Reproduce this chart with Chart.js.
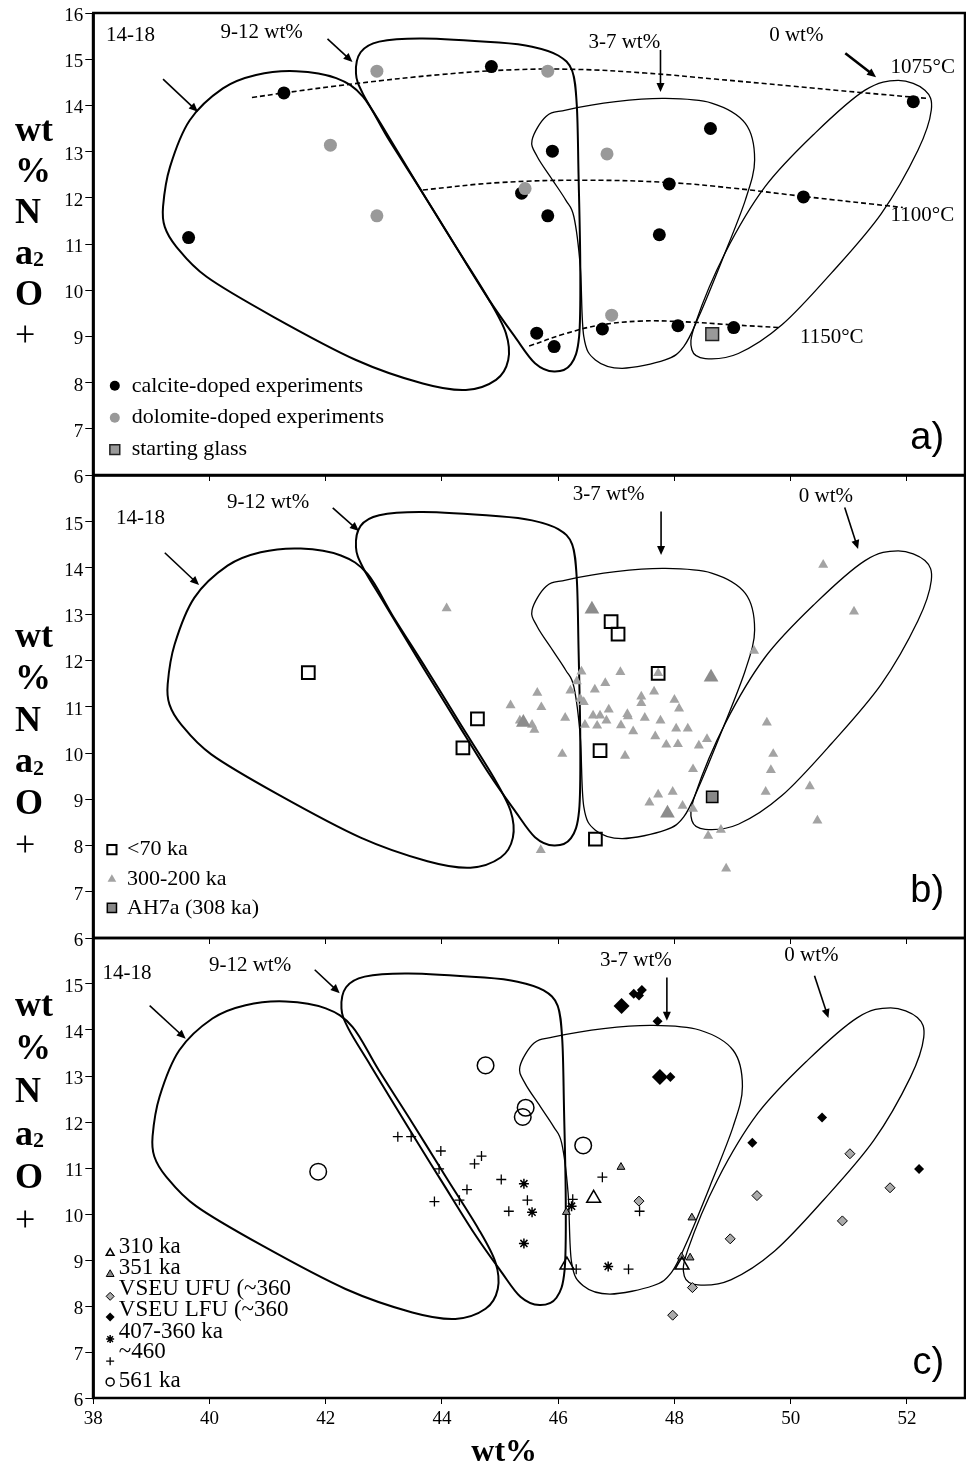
<!DOCTYPE html>
<html>
<head>
<meta charset="utf-8">
<script src="https://cdn.jsdelivr.net/npm/chart.js@4.4.1/dist/chart.umd.min.js"></script>
<style>
html, body { margin:0; padding:0; background:#fff; }
#wrap { position:relative; width:966px; height:1473px; overflow:hidden; }
canvas { position:absolute; left:0; }
</style>
</head>
<body>
<div id="wrap">
  <canvas id="panelA" width="966" height="490" style="top:0px"></canvas>
  <canvas id="panelB" width="966" height="483" style="top:470px"></canvas>
  <canvas id="panelC" width="966" height="540" style="top:933px"></canvas>
</div>
<script>
// ---------- axes ----------
var xTicks = [38, 40, 42, 44, 46, 48, 50, 52];
var yTicksA = [6, 7, 8, 9, 10, 11, 12, 13, 14, 15, 16];
var yTicksBC = [6, 7, 8, 9, 10, 11, 12, 13, 14, 15];

// ---------- panel a: experiments ----------
var calcite = [[41.28,14.27],[44.85,14.84],[39.64,11.14],[45.37,12.10],[52.11,14.08],[48.62,13.50],
  [45.90,13.01],[47.91,12.30],[50.22,12.02],[45.82,11.61],[47.74,11.20],[45.63,9.07],[45.93,8.78],
  [46.76,9.16],[48.06,9.23],[49.02,9.19]];
var dolomite = [[42.88,14.74],[42.08,13.14],[42.88,11.61],[45.43,12.20],[45.82,14.74],[46.84,12.95],[46.92,9.46]];
var startGlass = [[48.65,9.05]];
var iso1075 = [[40.73,14.17],[41.28,14.27],[42.5,14.47],[44.0,14.67],[45.2,14.77],[46.3,14.78],
  [47.5,14.70],[48.7,14.57],[50.0,14.42],[51.2,14.28],[52.36,14.15]];
var iso1100 = [[43.67,12.17],[45.0,12.33],[46.5,12.38],[47.9,12.33],[49.0,12.21],[50.22,12.03],[51.93,11.79]];
var iso1150 = [[45.5,8.79],[46.1,9.05],[46.7,9.24],[47.4,9.33],[48.1,9.32],[49.0,9.25],[49.82,9.19]];

// ---------- panel b: natural samples ----------
var young70 = [[41.70,11.74],[44.61,10.74],[44.36,10.11],[46.91,12.84],[47.03,12.57],[47.72,11.72],[46.72,10.05],[46.64,8.14]];
var ah7a = [[48.65,9.05]];
var tri300 = [[44.08,13.13],[45.18,11.03],[50.56,14.07],[51.09,13.06],[49.37,12.21],[46.40,11.76],[47.07,11.75],
  [47.72,11.73],[46.32,11.55],[46.81,11.51],[46.21,11.35],[46.63,11.37],[47.65,11.33],[45.64,11.30],[46.38,11.17],
  [46.44,11.10],[47.43,11.22],[47.43,11.08],[48.00,11.15],[45.71,10.99],[48.08,10.96],[46.87,10.94],[46.60,10.81],
  [46.72,10.81],[47.19,10.84],[47.20,10.79],[46.12,10.76],[46.83,10.70],[47.49,10.76],[47.76,10.70],[45.55,10.61],
  [46.46,10.61],[46.67,10.59],[47.08,10.60],[45.59,10.50],[47.29,10.47],[48.03,10.53],[48.23,10.53],[49.59,10.66],
  [47.67,10.36],[47.86,10.18],[48.06,10.19],[48.42,10.16],[48.56,10.30],[46.07,9.98],[47.15,9.94],[49.70,9.98],
  [49.66,9.63],[48.32,9.65],[50.33,9.28],[49.57,9.16],[47.72,9.10],[47.97,9.16],[47.57,8.93],[48.14,8.86],
  [48.32,8.79],[50.46,8.54],[48.80,8.34],[48.58,8.21],[45.70,7.90],[48.89,7.50],[45.34,10.70]];
var tri300Big = [[46.58,13.11],[48.63,11.64],[47.88,8.70],[45.40,10.66]];

// ---------- panel c: older samples ----------
var ka310 = [[46.61,10.34],[46.15,8.89],[48.13,8.89]];
var ka351 = [[47.08,11.02],[46.14,10.04],[48.30,9.92],[48.12,9.07],[48.27,9.05]];
var vseuUfu = [[47.39,10.28],[49.42,10.40],[48.96,9.46],[48.31,8.40],[47.97,7.80],[51.02,11.31],[51.71,10.57],[50.89,9.85]];
var vseuLfu = [[47.30,14.79],[47.39,14.75],[47.44,14.87],[47.71,14.19],[47.93,12.98],[49.34,11.55],[50.54,12.10],[52.21,10.98]];
var vseuLfuBig = [[47.09,14.52],[47.75,12.98]];
var ka407 = [[45.41,10.66],[45.55,10.04],[45.41,9.36],[46.23,10.17],[46.86,8.86]];
var ka460 = [[43.24,11.68],[43.47,11.68],[43.98,11.37],[43.95,10.98],[44.68,11.26],[44.56,11.09],[45.02,10.75],
  [44.43,10.53],[43.87,10.27],[44.30,10.30],[45.15,10.06],[45.47,10.30],[46.25,10.32],[46.31,8.80],[46.76,10.80],
  [47.40,10.06],[47.21,8.80]];
var ka561 = [[41.87,10.92],[44.75,13.23],[45.44,12.31],[45.39,12.11],[46.43,11.49]];

// ---------- CO2 envelopes (outline points, wt%) ----------
var env1418 = [[39.20,11.81],[39.32,12.67],[39.66,13.68],[40.23,14.37],[40.80,14.66],[41.49,14.74],[42.18,14.59],
  [42.64,14.19],[43.09,13.25],[43.67,12.10],[44.24,10.94],[44.81,9.79],[45.10,9.07],[45.14,8.49],[44.93,8.06],
  [44.41,7.84],[43.67,7.98],[42.52,8.49],[41.09,9.43],[39.95,10.29],[39.43,10.94],[39.23,11.37]];
var env912 = [[43.67,12.10],[44.24,10.94],[44.81,9.79],[45.25,9.00],[45.60,8.42],[45.93,8.24],[46.22,8.40],
  [46.36,9.00],[46.38,10.50],[46.35,12.50],[46.32,14.00],[46.24,14.75],[46.00,15.08],[45.55,15.27],[44.98,15.36],
  [43.67,15.45],[42.92,15.38],[42.60,15.15],[42.52,14.69],[42.64,14.25],[43.02,13.45]];
var env37 = [[45.55,13.25],[45.79,13.76],[46.13,13.90],[46.99,14.08],[47.84,14.15],[48.64,14.05],[49.22,13.61],
  [49.38,12.82],[49.22,11.95],[48.82,10.65],[48.42,9.43],[48.16,8.78],[47.84,8.49],[47.10,8.31],[46.64,8.49],
  [46.44,9.00],[46.38,10.51],[46.27,11.59],[46.13,11.95],[45.90,12.39],[45.64,12.89]];
var env0 = [[51.85,14.54],[52.31,14.33],[52.42,13.90],[52.19,13.03],[51.56,11.66],[50.70,10.37],[49.85,9.25],
  [49.10,8.63],[48.53,8.52],[48.30,8.71],[48.36,9.28],[48.87,10.80],[49.56,12.24],[50.42,13.40],[51.28,14.33]];

var envelopes = [env1418, env912, env37, env0];
var envWidths = [2, 2, 1.3, 1.3];

Chart.defaults.font.family = "'Liberation Serif', 'Times New Roman', serif";
Chart.defaults.color = '#000';

function toXY(arr) { return arr.map(function(p) { return {x: p[0], y: p[1]}; }); }

function closedCurve(ctx, pts) {
  var n = pts.length;
  ctx.beginPath();
  ctx.moveTo(pts[0][0], pts[0][1]);
  for (var i = 0; i < n; i++) {
    var p0 = pts[(i - 1 + n) % n], p1 = pts[i], p2 = pts[(i + 1) % n], p3 = pts[(i + 2) % n];
    var t = 1 / 6;
    ctx.bezierCurveTo(p1[0] + (p2[0] - p0[0]) * t, p1[1] + (p2[1] - p0[1]) * t,
                      p2[0] - (p3[0] - p1[0]) * t, p2[1] - (p3[1] - p1[1]) * t, p2[0], p2[1]);
  }
  ctx.closePath();
  ctx.stroke();
}

function arrow(ctx, x1, y1, x2, y2, w) {
  var a = Math.atan2(y2 - y1, x2 - x1), h = 9, hw = 4;
  ctx.lineWidth = w;
  ctx.beginPath();
  ctx.moveTo(x1, y1);
  ctx.lineTo(x2 - Math.cos(a) * h * 0.7, y2 - Math.sin(a) * h * 0.7);
  ctx.stroke();
  ctx.beginPath();
  ctx.moveTo(x2, y2);
  ctx.lineTo(x2 - h * Math.cos(a) + hw * Math.sin(a), y2 - h * Math.sin(a) - hw * Math.cos(a));
  ctx.lineTo(x2 - h * Math.cos(a) - hw * Math.sin(a), y2 - h * Math.sin(a) + hw * Math.cos(a));
  ctx.closePath();
  ctx.fill();
}

function marker(ctx, ds, r, x, y) {
  ctx.save();
  ctx.fillStyle = ds.pointBackgroundColor;
  ctx.strokeStyle = ds.pointBorderColor;
  ctx.lineWidth = ds.pointBorderWidth;
  Chart.helpers.drawPoint(ctx, {pointStyle: ds.pointStyle, radius: r, borderWidth: ds.pointBorderWidth, rotation: 0}, x, y);
  ctx.restore();
}

// draws envelopes, annotations, frame, legend and stacked y title
var deco = {
  id: 'deco',
  beforeDatasetsDraw: function(chart, args, o) {
    var ctx = chart.ctx, xs = chart.scales.x, ys = chart.scales.y;
    ctx.save();
    ctx.strokeStyle = '#000';
    envelopes.forEach(function(env, i) {
      var sh = o.shift[i];
      var pts = env.map(function(p) {
        return [xs.getPixelForValue(p[0] + sh[0]), ys.getPixelForValue(p[1] + sh[1])];
      });
      ctx.lineWidth = envWidths[i];
      closedCurve(ctx, pts);
    });
    ctx.restore();
  },
  afterDraw: function(chart, args, o) {
    var ctx = chart.ctx, xs = chart.scales.x, ys = chart.scales.y, ca = chart.chartArea;
    var X = function(v) { return xs.getPixelForValue(v); };
    var Y = function(v) { return ys.getPixelForValue(v); };
    ctx.save();
    ctx.fillStyle = '#000';
    ctx.strokeStyle = '#000';
    // frame
    ctx.lineWidth = 2.5;
    ctx.strokeRect(ca.left, ca.top, ca.right - ca.left, ca.bottom - ca.top);
    ctx.lineWidth = 3;
    ctx.beginPath(); ctx.moveTo(ca.left, ca.top); ctx.lineTo(ca.left, ca.bottom); ctx.stroke();
    // labels
    ctx.font = "21px 'Liberation Serif'";
    ctx.textBaseline = 'middle';
    ctx.textAlign = 'left';
    o.notes.forEach(function(n) { ctx.fillText(n.t, X(n.x), Y(n.y)); });
    o.arrows.forEach(function(a) { arrow(ctx, X(a[0]), Y(a[1]), X(a[2]), Y(a[3]), a[4]); });
    // panel letter
    ctx.font = "38px 'Liberation Sans'";
    ctx.textAlign = 'right';
    ctx.fillText(o.letter.t, X(o.letter.x), Y(o.letter.y));
    // legend
    ctx.textAlign = 'left';
    ctx.font = o.legendFont;
    o.legend.forEach(function(l) {
      marker(ctx, chart.data.datasets[l.ds], l.r, X(l.mx), Y(l.my));
      ctx.fillStyle = '#000';
      ctx.fillText(l.t, X(l.tx), Y(l.ty));
    });
    // stacked y title
    var y0 = Y(o.titleY), sp = o.titleStep, tx = 15;
    ctx.textAlign = 'left';
    ctx.font = "bold 36px 'Liberation Serif'";
    ctx.fillText('wt', tx, y0);
    ctx.fillText('%', tx, y0 + sp);
    ctx.fillText('N', tx, y0 + 2 * sp);
    ctx.fillText('a', tx, y0 + 3 * sp);
    var aw = ctx.measureText('a').width;
    ctx.font = "bold 22px 'Liberation Serif'";
    ctx.fillText('2', tx + aw, y0 + 3 * sp + 6);
    ctx.font = "bold 36px 'Liberation Serif'";
    ctx.fillText('O', tx, y0 + 4 * sp);
    ctx.font = "36px 'Liberation Serif'";
    ctx.fillText('+', tx, y0 + 5 * sp);
    // x title
    if (o.xTitle) {
      ctx.font = "bold 32px 'Liberation Serif'";
      ctx.textAlign = 'center';
      ctx.fillText(o.xTitle.t, X(o.xTitle.x), ca.bottom + o.xTitle.dy);
    }
    ctx.restore();
  }
};

function makeScales(yTicks, xHeight, xLabels) {
  return {
    x: {
      type: 'linear', min: 38, max: 53,
      afterBuildTicks: function(s) { s.ticks = xTicks.map(function(v) { return {value: v}; }); },
      afterFit: function(s) { s.height = xHeight; s.paddingLeft = 0; s.paddingRight = 0; },
      grid: { drawOnChartArea: false, drawTicks: true, tickLength: 6, color: '#000', lineWidth: 1 },
      border: { display: false },
      ticks: { display: xLabels, font: { size: 19 }, padding: 4, maxRotation: 0, autoSkip: false }
    },
    y: {
      type: 'linear', min: 6, max: 16,
      afterBuildTicks: function(s) { s.ticks = yTicks.map(function(v) { return {value: v}; }); },
      afterFit: function(s) { s.width = 93.3; s.paddingTop = 0; s.paddingBottom = 0; },
      grid: { drawOnChartArea: false, drawTicks: true, tickLength: 8, color: '#000', lineWidth: 1 },
      border: { display: false },
      ticks: { font: { size: 19 }, padding: 2, labelOffset: 3, autoSkip: false }
    }
  };
}

function pts(data, style, r, bg, bc, bw) {
  return { data: toXY(data), pointStyle: style, pointRadius: r, pointHoverRadius: r,
           pointBackgroundColor: bg, pointBorderColor: bc, pointBorderWidth: bw,
           backgroundColor: bg, borderColor: bc, showLine: false };
}
function dashed(data) {
  return { data: toXY(data), showLine: true, borderColor: '#000', borderWidth: 1.6, borderDash: [5, 3],
           pointRadius: 0, tension: 0.4, fill: false };
}

function makeChart(id, datasets, yTicks, xHeight, xLabels, pad, deco_opts) {
  return new Chart(document.getElementById(id).getContext('2d'), {
    type: 'scatter',
    data: { datasets: datasets },
    options: {
      responsive: false, animation: false, events: [],
      layout: { padding: pad, autoPadding: false },
      plugins: { legend: { display: false }, tooltip: { enabled: false }, deco: deco_opts },
      scales: makeScales(yTicks, xHeight, xLabels)
    },
    plugins: [deco]
  });
}

// ---------- panel a ----------
makeChart('panelA', [
  pts(dolomite, 'circle', 6.5, '#999999', '#999999', 0),
  pts(startGlass, 'rect', 9, '#999999', '#222222', 1.5),
  pts(calcite, 'circle', 6.5, '#000000', '#000000', 0),
  dashed(iso1075), dashed(iso1100), dashed(iso1150)
], yTicksA, 5, false, { top: 13, bottom: 10, left: 0, right: 1 }, {
  shift: [[0, 0], [0, 0], [0, 0], [0, 0]],
  notes: [
    {t: '14-18', x: 38.22, y: 15.52}, {t: '9-12 wt%', x: 40.19, y: 15.57},
    {t: '3-7 wt%', x: 46.52, y: 15.37}, {t: '0 wt%', x: 49.63, y: 15.52},
    {t: '1075°C', x: 51.72, y: 14.83}, {t: '1100°C', x: 51.72, y: 11.61}, {t: '1150°C', x: 50.16, y: 8.97}
  ],
  arrows: [[39.20, 14.57, 39.80, 13.86, 1.6], [42.03, 15.44, 42.46, 14.94, 1.6],
           [47.76, 15.20, 47.76, 14.29, 1.6], [50.94, 15.13, 51.47, 14.61, 2.6]],
  letter: {t: 'a)', x: 52.64, y: 6.80},
  legendFont: "22px 'Liberation Serif'",
  legend: [
    {t: 'calcite-doped experiments', ds: 2, r: 5, mx: 38.37, my: 7.93, tx: 38.66, ty: 7.93},
    {t: 'dolomite-doped experiments', ds: 0, r: 5, mx: 38.37, my: 7.24, tx: 38.66, ty: 7.24},
    {t: 'starting glass', ds: 1, r: 7, mx: 38.37, my: 6.55, tx: 38.66, ty: 6.55}
  ],
  titleY: 13.43, titleStep: 41
});

// ---------- panel b ----------
makeChart('panelB', [
  pts(young70, 'rect', 9, 'rgba(0,0,0,0)', '#000000', 2),
  pts(ah7a, 'rect', 8, '#888888', '#000000', 1.5),
  pts(tri300Big, 'triangle', 8.5, '#8c8c8c', '#8c8c8c', 0),
  pts(tri300, 'triangle', 5.8, '#a3a3a3', '#a3a3a3', 0)
], yTicksBC, 5, false, { top: 5.5, bottom: 10, left: 0, right: 1 }, {
  shift: [[0.08, -0.32], [0, -0.24], [0, -0.16], [0, -0.17]],
  notes: [
    {t: '14-18', x: 38.39, y: 15.06}, {t: '9-12 wt%', x: 40.30, y: 15.41},
    {t: '3-7 wt%', x: 46.25, y: 15.58}, {t: '0 wt%', x: 50.14, y: 15.54}
  ],
  arrows: [[39.23, 14.33, 39.82, 13.63, 1.6], [42.12, 15.30, 42.57, 14.80, 1.6],
           [47.77, 15.22, 47.77, 14.28, 1.6], [50.93, 15.31, 51.16, 14.41, 1.6]],
  letter: {t: 'b)', x: 52.64, y: 7.01},
  legendFont: "22px 'Liberation Serif'",
  legend: [
    {t: '<70 ka', ds: 0, r: 6.5, mx: 38.32, my: 7.91, tx: 38.58, ty: 7.91},
    {t: '300-200 ka', ds: 3, r: 5, mx: 38.32, my: 7.27, tx: 38.58, ty: 7.27},
    {t: 'AH7a (308 ka)', ds: 1, r: 6.5, mx: 38.32, my: 6.65, tx: 38.58, ty: 6.65}
  ],
  titleY: 12.49, titleStep: 41.7
});

// ---------- panel c ----------
makeChart('panelC', [
  pts(ka561, 'circle', 8.3, 'rgba(0,0,0,0)', '#000000', 1.5),
  pts(ka310, 'triangle', 8, 'rgba(0,0,0,0)', '#000000', 1.5),
  pts(ka351, 'triangle', 4.5, '#888888', '#000000', 1),
  pts(vseuLfuBig, 'rectRot', 8, '#000000', '#000000', 0),
  pts(vseuLfu, 'rectRot', 5, '#000000', '#000000', 0),
  pts(vseuUfu, 'rectRot', 5, '#aaaaaa', '#000000', 1),
  pts(ka407, 'star', 5, '#000000', '#000000', 1.5),
  pts(ka460, 'cross', 5, '#000000', '#000000', 1.3)
], yTicksBC, 75, true, { top: 5, bottom: 0, left: 0, right: 1 }, {
  shift: [[-0.18, -0.12], [-0.25, -0.22], [-0.21, -0.05], [-0.13, -0.06]],
  notes: [
    {t: '14-18', x: 38.16, y: 15.23}, {t: '9-12 wt%', x: 39.99, y: 15.41},
    {t: '3-7 wt%', x: 46.72, y: 15.52}, {t: '0 wt%', x: 49.89, y: 15.63}
  ],
  arrows: [[38.97, 14.53, 39.59, 13.81, 1.6], [41.81, 15.31, 42.24, 14.80, 1.6],
           [47.87, 15.14, 47.87, 14.20, 1.6], [50.41, 15.18, 50.65, 14.26, 1.6]],
  letter: {t: 'c)', x: 52.64, y: 6.74},
  legendFont: "23px 'Liberation Serif'",
  legend: [
    {t: '310 ka', ds: 1, r: 4.5, mx: 38.29, my: 9.15, tx: 38.44, ty: 9.28},
    {t: '351 ka', ds: 2, r: 4.5, mx: 38.29, my: 8.69, tx: 38.44, ty: 8.83},
    {t: 'VSEU UFU (~360', ds: 5, r: 4, mx: 38.29, my: 8.21, tx: 38.44, ty: 8.36},
    {t: 'VSEU LFU (~360', ds: 4, r: 4.5, mx: 38.29, my: 7.76, tx: 38.44, ty: 7.91},
    {t: '407-360 ka', ds: 6, r: 4, mx: 38.29, my: 7.28, tx: 38.44, ty: 7.43},
    {t: '~460', ds: 7, r: 4, mx: 38.29, my: 6.80, tx: 38.44, ty: 7.00},
    {t: '561 ka', ds: 0, r: 4, mx: 38.29, my: 6.35, tx: 38.44, ty: 6.37}
  ],
  titleY: 14.51, titleStep: 43,
  xTitle: {t: 'wt%', x: 45.07, dy: 55}
});
</script>
</body>
</html>
